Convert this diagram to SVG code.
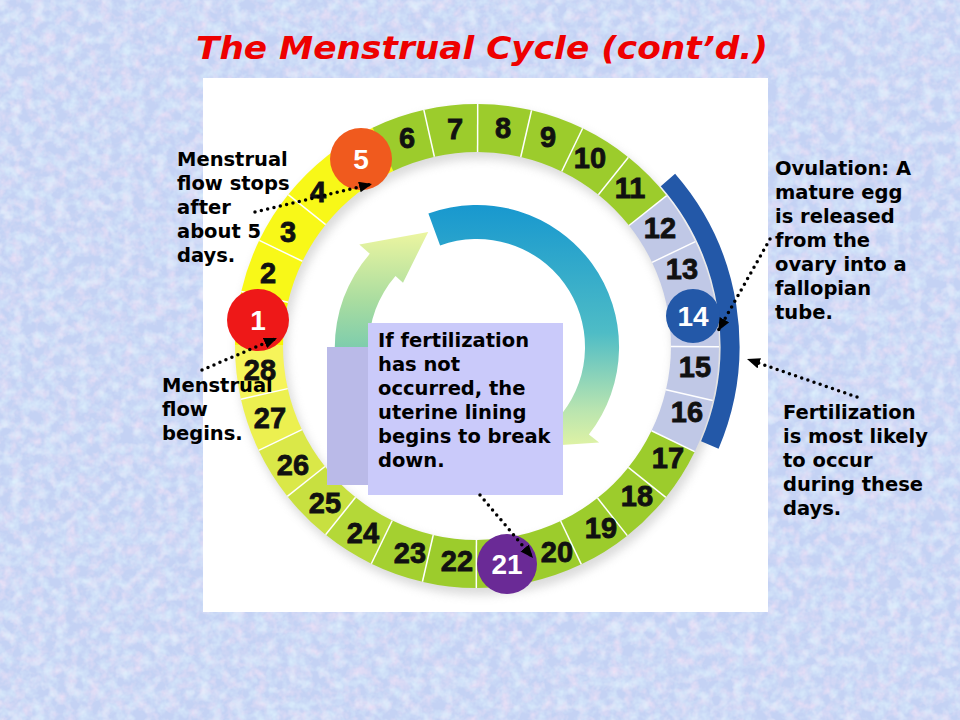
<svg xmlns="http://www.w3.org/2000/svg" width="960" height="720" viewBox="0 0 960 720">
<defs>
<filter id="tex1" x="0" y="0" width="100%" height="100%">
<feTurbulence type="fractalNoise" baseFrequency="0.09" numOctaves="3" seed="4"/>
<feColorMatrix type="matrix" values="0 0 0 0 0.92  0 0 0 0 0.78  0 0 0 0 0.93  1.5 0 0 0 -0.62"/>
</filter>
<filter id="tex2" x="0" y="0" width="100%" height="100%">
<feTurbulence type="fractalNoise" baseFrequency="0.09" numOctaves="3" seed="11"/>
<feColorMatrix type="matrix" values="0 0 0 0 0.74  0 0 0 0 0.90  0 0 0 0 0.99  1.5 0 0 0 -0.6"/>
</filter>
<filter id="shadow" x="-20%" y="-20%" width="140%" height="140%">
<feGaussianBlur stdDeviation="5"/>
</filter>
<linearGradient id="gA" gradientUnits="userSpaceOnUse" x1="0" y1="205" x2="0" y2="460">
<stop offset="0" stop-color="#1898cf"/>
<stop offset="0.5" stop-color="#4ebcc6"/>
<stop offset="0.8" stop-color="#b8e4b0"/>
<stop offset="1" stop-color="#eef8a0"/>
</linearGradient>
<linearGradient id="gB" gradientUnits="userSpaceOnUse" x1="0" y1="470" x2="0" y2="230">
<stop offset="0" stop-color="#1e9ccc"/>
<stop offset="0.4" stop-color="#66c4b4"/>
<stop offset="0.7" stop-color="#a8dca0"/>
<stop offset="1" stop-color="#eef6a0"/>
</linearGradient>
<marker id="ah" viewBox="0 0 12 10" refX="12" refY="5" markerWidth="13" markerHeight="11" markerUnits="userSpaceOnUse" orient="auto">
<path d="M0,0 L12,5 L0,10 z" fill="#000"/>
</marker>
<style>
.seg{fill:none;stroke-width:48;stroke-dasharray:49.5 1400}
.sep{stroke:#fff;stroke-width:1.5}
.num{font-family:"Liberation Sans",Arial,sans-serif;font-weight:bold;font-size:29px;fill:#111;stroke:#111;stroke-width:0.8;text-anchor:middle}
.cnum{font-family:"Liberation Sans",Arial,sans-serif;font-weight:bold;font-size:28px;fill:#fff;text-anchor:middle}
.lbl{font-family:"DejaVu Sans",Verdana,sans-serif;font-weight:bold;font-size:19.5px;fill:#000}
.dot{fill:none;stroke:#000;stroke-width:3.5;stroke-linecap:round;stroke-dasharray:0 6.5}
</style>
</defs>

<rect width="960" height="720" fill="#c4d2f4"/>
<rect width="960" height="720" filter="url(#tex1)"/>
<rect width="960" height="720" filter="url(#tex2)"/>

<text x="482" y="59" text-anchor="middle" font-family="'DejaVu Sans',Verdana,sans-serif" font-weight="bold" font-style="italic" font-size="32" fill="#ee0000" textLength="572" lengthAdjust="spacingAndGlyphs">The Menstrual Cycle (cont’d.)</text>

<rect x="203" y="78" width="565" height="534" fill="#ffffff"/>

<g id="ring-shadow">
<circle cx="480" cy="352" r="218" fill="none" stroke="#b0b0b0" stroke-width="50" opacity="0.45" filter="url(#shadow)"/>
</g>

<g id="ring" transform="translate(477,346)">
<circle class="seg" r="218" stroke="#f6f600" transform="rotate(180.17)"/>
<circle class="seg" r="218" stroke="#f8f818" transform="rotate(193.03)"/>
<circle class="seg" r="218" stroke="#f8f818" transform="rotate(205.89)"/>
<circle class="seg" r="218" stroke="#f8f818" transform="rotate(218.74)"/>
<circle class="seg" r="218" stroke="#f8f818" transform="rotate(231.6)"/>
<circle class="seg" r="218" stroke="#9ccc2c" transform="rotate(244.46)"/>
<circle class="seg" r="218" stroke="#9ccc2c" transform="rotate(257.31)"/>
<circle class="seg" r="218" stroke="#9ccc2c" transform="rotate(270.17)"/>
<circle class="seg" r="218" stroke="#9ccc2c" transform="rotate(283.03)"/>
<circle class="seg" r="218" stroke="#9ccc2c" transform="rotate(295.89)"/>
<circle class="seg" r="218" stroke="#9ccc2c" transform="rotate(308.74)"/>
<circle class="seg" r="218" stroke="#c0c8e6" transform="rotate(321.6)"/>
<circle class="seg" r="218" stroke="#c0c8e6" transform="rotate(334.46)"/>
<circle class="seg" r="218" stroke="#c0c8e6" transform="rotate(347.31)"/>
<circle class="seg" r="218" stroke="#c0c8e6" transform="rotate(0.17)"/>
<circle class="seg" r="218" stroke="#c0c8e6" transform="rotate(13.03)"/>
<circle class="seg" r="218" stroke="#9ccc2c" transform="rotate(25.89)"/>
<circle class="seg" r="218" stroke="#9ccc2c" transform="rotate(38.74)"/>
<circle class="seg" r="218" stroke="#9ccc2c" transform="rotate(51.6)"/>
<circle class="seg" r="218" stroke="#9ccc2c" transform="rotate(64.46)"/>
<circle class="seg" r="218" stroke="#9ccc2c" transform="rotate(77.31)"/>
<circle class="seg" r="218" stroke="#9ccc2c" transform="rotate(90.17)"/>
<circle class="seg" r="218" stroke="#a4d030" transform="rotate(103.03)"/>
<circle class="seg" r="218" stroke="#b4d838" transform="rotate(115.89)"/>
<circle class="seg" r="218" stroke="#c8e040" transform="rotate(128.74)"/>
<circle class="seg" r="218" stroke="#dae848" transform="rotate(141.6)"/>
<circle class="seg" r="218" stroke="#ecf050" transform="rotate(154.46)"/>
<circle class="seg" r="218" stroke="#f6f45a" transform="rotate(167.31)"/>
<g class="sep">
<line x1="194" x2="242" transform="rotate(193.03)"/>
<line x1="194" x2="242" transform="rotate(205.89)"/>
<line x1="194" x2="242" transform="rotate(218.74)"/>
<line x1="194" x2="242" transform="rotate(257.31)"/>
<line x1="194" x2="242" transform="rotate(270.17)"/>
<line x1="194" x2="242" transform="rotate(283.03)"/>
<line x1="194" x2="242" transform="rotate(295.89)"/>
<line x1="194" x2="242" transform="rotate(308.74)"/>
<line x1="194" x2="242" transform="rotate(321.6)"/>
<line x1="194" x2="242" transform="rotate(334.46)"/>
<line x1="194" x2="242" transform="rotate(0.17)"/>
<line x1="194" x2="242" transform="rotate(13.03)"/>
<line x1="194" x2="242" transform="rotate(25.89)"/>
<line x1="194" x2="242" transform="rotate(38.74)"/>
<line x1="194" x2="242" transform="rotate(51.6)"/>
<line x1="194" x2="242" transform="rotate(64.46)"/>
<line x1="194" x2="242" transform="rotate(90.17)"/>
<line x1="194" x2="242" transform="rotate(103.03)"/>
<line x1="194" x2="242" transform="rotate(115.89)"/>
<line x1="194" x2="242" transform="rotate(128.74)"/>
<line x1="194" x2="242" transform="rotate(141.6)"/>
<line x1="194" x2="242" transform="rotate(154.46)"/>
<line x1="194" x2="242" transform="rotate(167.31)"/>
</g>
<circle r="253" fill="none" stroke="#2358a8" stroke-width="19" stroke-dasharray="282.6 2000" transform="rotate(319)"/>
</g>

<g id="cycle-arrows">
<path d="M558.5,463.3 A142,142 0 0 1 369.8,253.8 L359.3,244.6 L428.2,231.9 L403.0,282.7 L395.5,276.1 A108,108 0 0 0 539.0,435.5 Z" fill="url(#gB)"/>
<path d="M428.4,213.6 A142,142 0 0 1 588.9,434.5 L599.1,442.5 L554.0,445.5 L551.9,405.5 L562.1,413.5 A108,108 0 0 0 440.1,245.5 Z" fill="url(#gA)"/>
</g>

<g id="day-numbers">
<text class="num" x="268" y="283">2</text>
<text class="num" x="288" y="242">3</text>
<text class="num" x="318" y="202">4</text>
<text class="num" x="407" y="148">6</text>
<text class="num" x="455" y="139">7</text>
<text class="num" x="503" y="138">8</text>
<text class="num" x="548" y="147">9</text>
<text class="num" x="590" y="168">10</text>
<text class="num" x="630" y="198">11</text>
<text class="num" x="660" y="238">12</text>
<text class="num" x="682" y="279">13</text>
<text class="num" x="695" y="377">15</text>
<text class="num" x="687" y="422">16</text>
<text class="num" x="668" y="468">17</text>
<text class="num" x="637" y="506">18</text>
<text class="num" x="601" y="538">19</text>
<text class="num" x="557" y="562">20</text>
<text class="num" x="457" y="571">22</text>
<text class="num" x="410" y="563">23</text>
<text class="num" x="363" y="543">24</text>
<text class="num" x="325" y="513">25</text>
<text class="num" x="293" y="475">26</text>
<text class="num" x="270" y="428">27</text>
<text class="num" x="260" y="380">28</text>
</g>

<g id="day1">
<circle cx="258" cy="320" r="31" fill="#ee1818"/>
<text class="cnum" x="258" y="330" font-size="30">1</text>
</g>
<g id="day5">
<circle cx="361" cy="159" r="31" fill="#f05a1e"/>
<text class="cnum" x="361" y="169">5</text>
</g>
<g id="day14">
<circle cx="693" cy="316" r="27" fill="#2358a8"/>
<text class="cnum" x="693" y="326" font-size="27">14</text>
</g>
<g id="day21">
<circle cx="507" cy="564" r="30" fill="#6a2a96"/>
<text class="cnum" x="507" y="574">21</text>
</g>

<g id="info-box">
<rect x="327" y="347" width="41" height="138" fill="#babae8"/>
<rect x="368" y="323" width="195" height="172" fill="#cacafa"/>
<text class="lbl" x="378" y="347">If fertilization</text>
<text class="lbl" x="378" y="371">has not</text>
<text class="lbl" x="378" y="395">occurred, the</text>
<text class="lbl" x="378" y="419">uterine lining</text>
<text class="lbl" x="378" y="443">begins to break</text>
<text class="lbl" x="378" y="467">down.</text>
</g>

<g id="label-flow-stops">
<text class="lbl" x="177" y="166">Menstrual</text>
<text class="lbl" x="177" y="190">flow stops</text>
<text class="lbl" x="177" y="214">after</text>
<text class="lbl" x="177" y="238">about 5</text>
<text class="lbl" x="177" y="262">days.</text>
</g>
<g id="label-flow-begins">
<text class="lbl" x="162" y="392">Menstrual</text>
<text class="lbl" x="162" y="416">flow</text>
<text class="lbl" x="162" y="440">begins.</text>
</g>
<g id="label-ovulation">
<text class="lbl" x="775" y="175">Ovulation: A</text>
<text class="lbl" x="775" y="199">mature egg</text>
<text class="lbl" x="775" y="223">is released</text>
<text class="lbl" x="775" y="247">from the</text>
<text class="lbl" x="775" y="271">ovary into a</text>
<text class="lbl" x="775" y="295">fallopian</text>
<text class="lbl" x="775" y="319">tube.</text>
</g>
<g id="label-fertilization">
<text class="lbl" x="783" y="419">Fertilization</text>
<text class="lbl" x="783" y="443">is most likely</text>
<text class="lbl" x="783" y="467">to occur</text>
<text class="lbl" x="783" y="491">during these</text>
<text class="lbl" x="783" y="515">days.</text>
</g>

<g id="connectors">
<line class="dot" x1="255" y1="212" x2="372" y2="184" marker-end="url(#ah)"/>
<line class="dot" x1="202" y1="370" x2="277" y2="338" marker-end="url(#ah)"/>
<line class="dot" x1="770" y1="239" x2="718" y2="331" marker-end="url(#ah)"/>
<line class="dot" x1="857" y1="397" x2="747" y2="359" marker-end="url(#ah)"/>
<line class="dot" x1="480" y1="495" x2="533" y2="558" marker-end="url(#ah)"/>
</g>
</svg>
